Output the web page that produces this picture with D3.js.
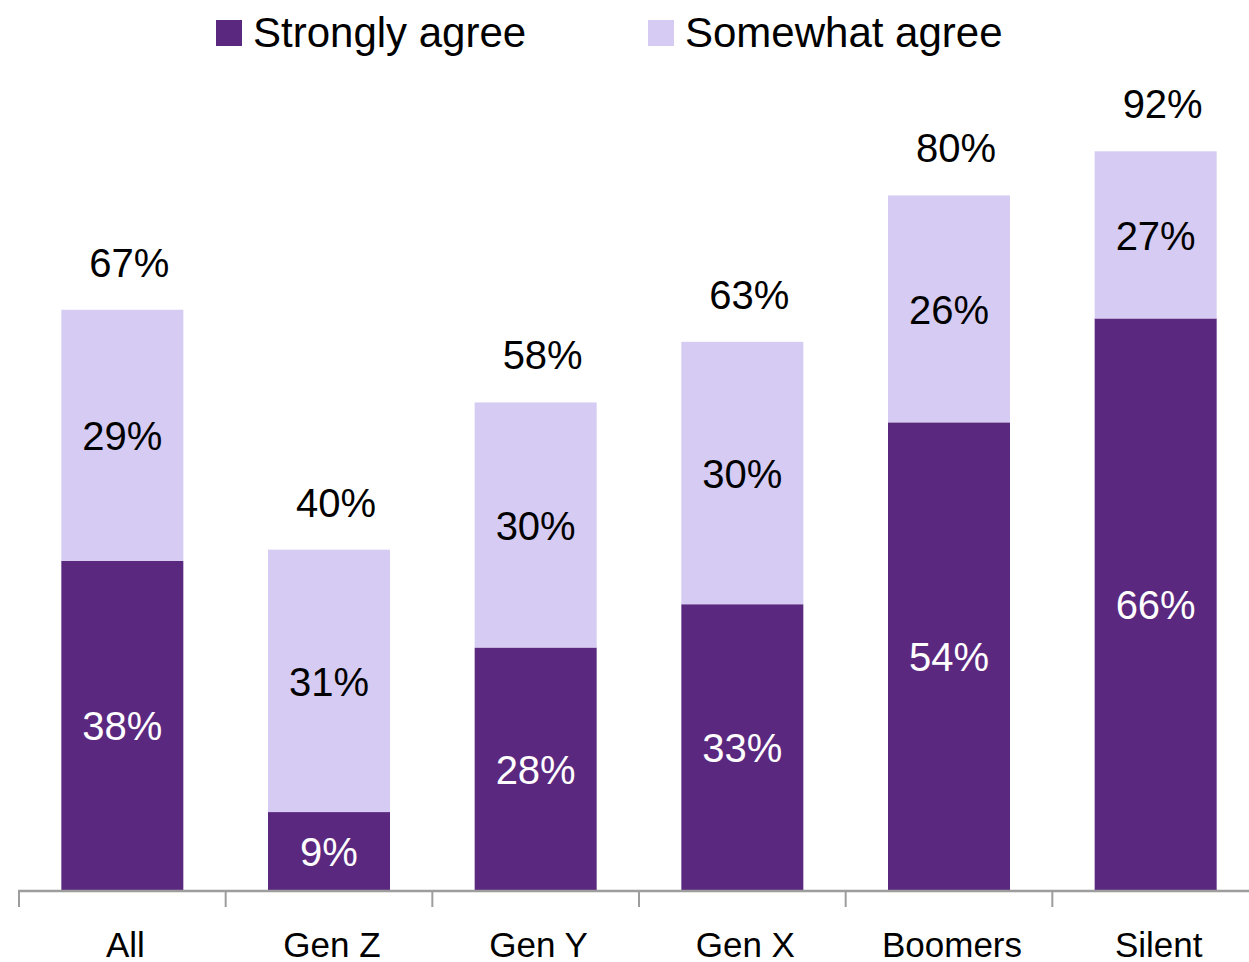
<!DOCTYPE html>
<html>
<head>
<meta charset="utf-8">
<script src="https://cdn.jsdelivr.net/npm/d3@7/dist/d3.min.js"></script>
<style>
  html, body { margin: 0; padding: 0; background: #fff; overflow: hidden; }
  svg { display: block; font-family: "Liberation Sans", Arial, sans-serif; }
</style>
</head>
<body>
<svg id="chart" width="1249" height="962"></svg>
<script>
// categories and values (bar heights; labels as printed)
const categories = ["All", "Gen Z", "Gen Y", "Gen X", "Boomers", "Silent"];
const strongly = [38, 9, 28, 33, 54, 66];
const somewhat = [29, 30.3, 28.3, 30.3, 26.2, 19.3];
const stronglyLabels = ["38%", "9%", "28%", "33%", "54%", "66%"];
const somewhatLabels = ["29%", "31%", "30%", "30%", "26%", "27%"];
const totalLabels = ["67%", "40%", "58%", "63%", "80%", "92%"];
const seriesNames = ["Strongly agree", "Somewhat agree"];

const DARK = "#5b2880";
const LIGHT = "#d5cbf3";
const AXIS = "#9d9d9d";

const svg = d3.select("#chart");

const x = d3.scaleBand().domain(categories).range([18, 1258]).paddingInner(0).paddingOuter(0);
const y = d3.scaleLinear().domain([0, 100]).range([890, 24]);
const barW = 122;

const rows = categories.map((c, i) => ({
  cat: c,
  s: strongly[i],
  w: somewhat[i],
  sl: stronglyLabels[i],
  wl: somewhatLabels[i],
  tl: totalLabels[i],
}));

const cx = (d) => x(d.cat) + x.bandwidth() / 2;

/* --- bars --- */
const g = svg.append("g");
g.selectAll("rect.strong")
  .data(rows)
  .join("rect")
  .attr("class", "strong")
  .attr("x", (d) => cx(d) - barW / 2 + 1)
  .attr("width", barW)
  .attr("y", (d) => y(d.s))
  .attr("height", (d) => y(0) - y(d.s))
  .attr("fill", DARK);

g.selectAll("rect.some")
  .data(rows)
  .join("rect")
  .attr("class", "some")
  .attr("x", (d) => cx(d) - barW / 2 + 1)
  .attr("width", barW)
  .attr("y", (d) => y(d.s + d.w))
  .attr("height", (d) => y(d.s) - y(d.s + d.w))
  .attr("fill", LIGHT);

/* --- axis --- */
svg.append("line")
  .attr("x1", 18).attr("x2", 1249)
  .attr("y1", 891).attr("y2", 891)
  .attr("stroke", AXIS).attr("stroke-width", 2.5);

svg.selectAll("line.tick")
  .data(categories)
  .join("line")
  .attr("class", "tick")
  .attr("x1", (c) => x(c) + 1).attr("x2", (c) => x(c) + 1)
  .attr("y1", 891).attr("y2", 907)
  .attr("stroke", AXIS).attr("stroke-width", 2);

svg.selectAll("text.cat")
  .data(categories)
  .join("text")
  .attr("class", "cat")
  .attr("x", (c) => x(c) + x.bandwidth() / 2 + 4)
  .attr("y", 957)
  .attr("text-anchor", "middle")
  .attr("font-size", 35)
  .attr("fill", "#000")
  .text((c) => c);

/* --- labels --- */
svg.selectAll("text.sl")
  .data(rows)
  .join("text")
  .attr("class", "sl")
  .attr("x", (d) => cx(d) + 1)
  .attr("y", (d) => (y(0) + y(d.s)) / 2 + 15)
  .attr("text-anchor", "middle")
  .attr("font-size", 40)
  .attr("fill", "#fff")
  .text((d) => d.sl);

svg.selectAll("text.wl")
  .data(rows)
  .join("text")
  .attr("class", "wl")
  .attr("x", (d) => cx(d) + 1)
  .attr("y", (d) => (y(d.s) + y(d.s + d.w)) / 2 + 15)
  .attr("text-anchor", "middle")
  .attr("font-size", 40)
  .attr("fill", "#000")
  .text((d) => d.wl);

svg.selectAll("text.tl")
  .data(rows)
  .join("text")
  .attr("class", "tl")
  .attr("x", (d) => cx(d) + 8)
  .attr("y", (d) => y(d.s + d.w) - 33)
  .attr("text-anchor", "middle")
  .attr("font-size", 40)
  .attr("fill", "#000")
  .text((d) => d.tl);

/* --- legend --- */
const legendX = [216, 648];
const legend = svg.selectAll("g.leg")
  .data(seriesNames)
  .join("g")
  .attr("class", "leg")
  .attr("transform", (d, i) => `translate(${legendX[i]},0)`);

legend.append("rect")
  .attr("x", 0).attr("y", 20)
  .attr("width", 26).attr("height", 26)
  .attr("fill", (d, i) => (i === 0 ? DARK : LIGHT));

legend.append("text")
  .attr("x", 37).attr("y", 47)
  .attr("font-size", 42)
  .attr("fill", "#000")
  .text((d) => d);
</script>
</body>
</html>
